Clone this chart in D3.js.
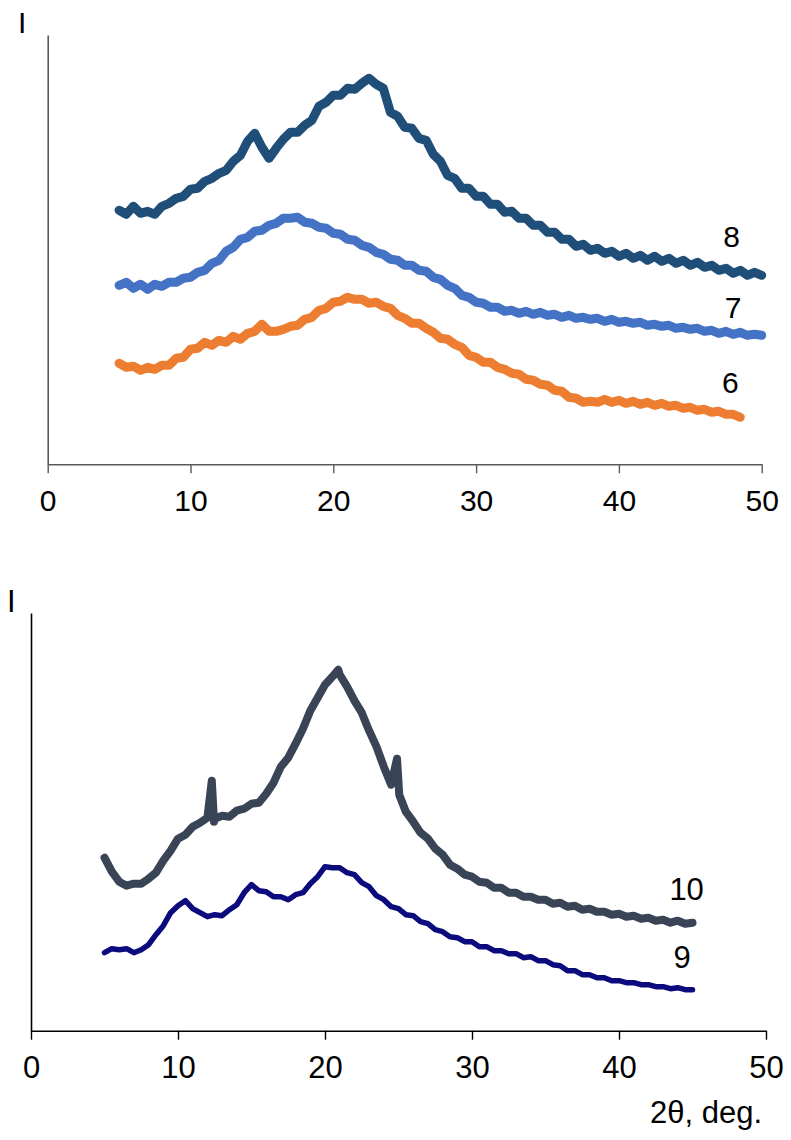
<!DOCTYPE html>
<html>
<head>
<meta charset="utf-8">
<script src="https://cdn.jsdelivr.net/npm/d3@7"></script>
<style>
  html, body { margin: 0; padding: 0; background: #fff; }
  svg { display: block; font-family: "Liberation Sans", Arial, sans-serif; }
</style>
</head>
<body>
<svg id="chart" width="791" height="1140"></svg>
<script>
// ---------- DATA ----------
const xTicks = [0, 10, 20, 30, 40, 50];

// top panel: common 2θ grid 5..50 (0.5°)
const thetaTop = [5,5.5,6,6.5,7,7.5,8,8.5,9,9.5,10,10.5,11,11.5,12,12.5,13,13.5,14,14.5,15,15.5,16,16.5,17,17.5,18,18.5,19,19.5,20,20.5,21,21.5,22,22.5,23,23.5,24,24.5,25,25.5,26,26.5,27,27.5,28,28.5,29,29.5,30,30.5,31,31.5,32,32.5,33,33.5,34,34.5,35,35.5,36,36.5,37,37.5,38,38.5,39,39.5,40,40.5,41,41.5,42,42.5,43,43.5,44,44.5,45,45.5,46,46.5,47,47.5,48,48.5,49,49.5,50];

const int8 = [254,250,258,251,253,250,258,261,266,268,275,276,283,286,291,294,303,309,323,331,317,306,316,325,332,332,339,344,358,362,369,369,376,375,381,386,380,376,352,348,337,336,326,324,310,303,289,286,276,276,268,268,260,260,252,253,246,246,239,239,232,232,225,225,218,220,214,216,211,213,208,211,206,209,204,208,203,206,201,204,199,202,197,199,194,196,191,194,189,192,189];

const int7 = [179,182,176,180,175,180,178,182,182,186,187,192,194,201,204,213,217,225,227,233,234,239,241,246,246,247,242,241,237,236,231,230,225,224,219,217,212,210,205,204,199,199,194,193,187,185,179,176,169,167,162,161,157,157,153,154,151,153,150,152,149,150,147,149,146,147,145,146,143,145,142,143,141,142,139,140,138,139,136,137,135,136,133,134,131,133,130,132,129,130,129];

// series 6 ends at 48.5°
const int6 = [101,97,98,94,97,95,99,99,106,107,115,116,122,119,124,122,128,125,131,133,140,133,133,135,138,139,145,147,154,156,162,163,167,165,165,161,162,158,156,149,146,141,141,136,132,126,125,120,117,109,107,102,102,97,95,91,90,85,84,80,79,74,73,67,66,62,63,62,65,62,64,61,63,60,62,59,61,58,59,56,57,54,55,52,53,50,50,47];

// bottom panel
const theta10 = [5,5.5,6,6.5,7,7.5,8,8.5,9,9.5,10,10.5,11,11.5,12,12.3,12.45,12.5,13,13.5,14,14.5,15,15.5,16,16.5,17,17.5,18,18.5,19,19.5,20,20.5,20.9,21,21.5,22,22.5,23,23.5,24,24.5,24.9,25.05,25.5,26,26.5,27,27.5,28,28.5,29,29.5,30,30.5,31,31.5,32,32.5,33,33.5,34,34.5,35,35.5,36,36.5,37,37.5,38,38.5,39,39.5,40,40.5,41,41.5,42,42.5,43,43.5,44,44.5,45];
const int10 = [173,159,149,145,147,147,152,158,170,180,192,196,204,208,213,250,209,212,215,214,220,222,227,228,237,248,264,273,287,302,320,333,346,354,361,356,344,330,318,300,284,264,246,272,236,219,209,198,192,182,176,166,162,156,154,149,148,143,143,138,138,134,134,131,131,127,128,124,125,121,122,119,119,116,117,114,115,112,113,110,111,108,110,107,108];

const theta9 = [5,5.5,6,6.5,7,7.5,8,8.5,9,9.5,10,10.5,11,11.5,12,12.5,13,13.5,14,14.5,15,15.5,16,16.5,17,17.5,18,18.5,19,19.5,20,20.5,21,21.5,22,22.5,23,23.5,24,24.5,25,25.5,26,26.5,27,27.5,28,28.5,29,29.5,30,30.5,31,31.5,32,32.5,33,33.5,34,34.5,35,35.5,36,36.5,37,37.5,38,38.5,39,39.5,40,40.5,41,41.5,42,42.5,43,43.5,44,44.5,45];
const int9 = [78,82,81,82,78,81,86,96,105,118,125,130,122,118,114,116,115,121,126,138,146,140,139,134,134,131,136,138,147,154,164,163,163,158,156,148,144,135,131,124,122,116,115,109,107,101,99,94,93,89,89,84,84,80,80,77,77,73,74,70,70,66,65,60,60,56,56,53,53,50,50,48,48,46,46,44,44,42,43,41,41];

const seriesNames = ["8", "7", "6", "10", "9"];
const xLabel = "2\u03b8, deg.";
const yLabel = "I";

// ---------- DRAW ----------
const svg = d3.select("#chart");

function panel(cfg) {
  const g = svg.append("g");
  const x = d3.scaleLinear().domain([0, 50]).range([cfg.x0, cfg.x1]);
  const y = d3.scaleLinear().domain([0, cfg.yMax]).range([cfg.yBottom, cfg.yTop]);

  cfg.series.forEach(s => {
    const pts = s.theta.map((t, i) => [t, s.values[i]]);
    g.append("path")
      .datum(pts)
      .attr("fill", "none")
      .attr("stroke", s.color)
      .attr("stroke-width", s.width)
      .attr("stroke-linejoin", "round")
      .attr("stroke-linecap", "round")
      .attr("d", d3.line().x(d => x(d[0])).y(d => y(d[1])));
    g.append("text")
      .attr("x", x(s.labelAt[0]))
      .attr("y", y(s.labelAt[1]))
      .attr("text-anchor", "middle")
      .attr("font-size", cfg.font)
      .attr("fill", "#000")
      .text(s.name);
  });

  const ax = g.append("g")
    .attr("transform", `translate(0,${cfg.yBottom})`)
    .call(d3.axisBottom(x).tickValues(xTicks).tickSize(9).tickSizeOuter(0).tickPadding(16));
  ax.select(".domain").attr("stroke", cfg.axisColor).attr("stroke-width", 1.6);
  ax.selectAll(".tick line").attr("stroke", cfg.axisColor).attr("stroke-width", 1.4);
  ax.selectAll(".tick text").attr("font-size", cfg.font).attr("fill", "#000")
    .attr("font-family", "Liberation Sans, Arial, sans-serif").attr("dy", "0.71em");

  const ay = g.append("g")
    .attr("transform", `translate(${cfg.x0},0)`)
    .call(d3.axisLeft(y).tickValues([]).tickSizeOuter(0));
  ay.select(".domain").attr("stroke", cfg.axisColor).attr("stroke-width", 1.6);

  g.append("text")
    .attr("x", cfg.yLabelPos[0]).attr("y", cfg.yLabelPos[1])
    .attr("font-size", cfg.font).attr("fill", "#000").text(yLabel);
  return {x, y};
}

panel({
  x0: 47.7, x1: 761.7, yTop: 35, yBottom: 464.3, yMax: 429.3,
  axisColor: "#5a5a5a", font: 30, yLabelPos: [18, 33],
  series: [
    {name: seriesNames[0], theta: thetaTop, values: int8, color: "#1F4E79", width: 9, labelAt: [47.9, 217.6]},
    {name: seriesNames[1], theta: thetaTop, values: int7, color: "#4472C4", width: 9, labelAt: [48.0, 146.0]},
    {name: seriesNames[2], theta: thetaTop.slice(0, int6.length), values: int6, color: "#ED7D31", width: 9, labelAt: [47.8, 71.3]}
  ]
});

panel({
  x0: 31, x1: 766, yTop: 613, yBottom: 1030.7, yMax: 417.7,
  axisColor: "#000", font: 31, yLabelPos: [7, 612],
  series: [
    {name: seriesNames[3], theta: theta10, values: int10, color: "#394456", width: 8, labelAt: [44.6, 130.7]},
    {name: seriesNames[4], theta: theta9, values: int9, color: "#0B0B7E", width: 5.5, labelAt: [44.3, 62.7]}
  ]
});

svg.append("text")
  .attr("x", 762).attr("y", 1123)
  .attr("text-anchor", "end")
  .attr("font-size", 31)
  .attr("fill", "#000")
  .text(xLabel);
</script>
</body>
</html>
